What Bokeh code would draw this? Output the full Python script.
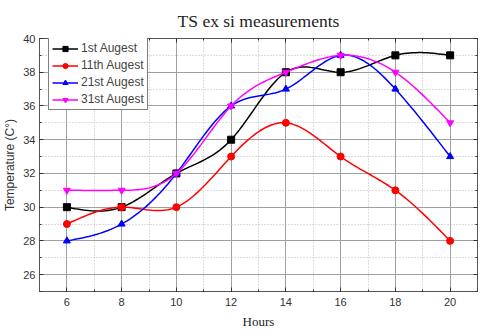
import numpy as np
from bokeh.plotting import figure
from bokeh.models import LinearAxis, Range1d, FixedTicker, Legend, LegendItem, Title, Grid
from bokeh.embed import file_html
from bokeh.resources import INLINE

hours = [6, 8, 10, 12, 14, 16, 18, 20]
aug1 = [30, 30, 32, 34, 38, 38, 39, 39]
aug11 = [29, 30, 30, 33, 35, 33, 31, 28]
aug21 = [28, 29, 32, 36, 37, 39, 37, 33]
aug31 = [31, 31, 32, 36, 38, 39, 38, 35]
labels = ["1st Augest", "11th Augest", "21st Augest", "31st Augest"]
colors = ["black", "red", "blue", "magenta"]
markers = ["square", "circle", "triangle", "inverted_triangle"]


def spline(x, y, n=20):
    x = np.asarray(x, float)
    y = np.asarray(y, float)
    m = len(x)
    h = np.diff(x)
    A = np.zeros((m, m))
    b = np.zeros(m)
    A[0, 0] = A[-1, -1] = 1
    for i in range(1, m - 1):
        A[i, i - 1] = h[i - 1]
        A[i, i] = 2 * (h[i - 1] + h[i])
        A[i, i + 1] = h[i]
        b[i] = 6 * ((y[i + 1] - y[i]) / h[i] - (y[i] - y[i - 1]) / h[i - 1])
    M = np.linalg.solve(A, b)
    xs, ys = [], []
    for i in range(m - 1):
        t = np.linspace(x[i], x[i + 1], n, endpoint=(i == m - 2))
        a = x[i + 1] - t
        c = t - x[i]
        s = (M[i] * a**3 + M[i + 1] * c**3) / (6 * h[i]) + \
            (y[i] / h[i] - M[i] * h[i] / 6) * a + \
            (y[i + 1] / h[i] - M[i + 1] * h[i] / 6) * c
        xs.extend(t)
        ys.extend(s)
    return xs, ys


p = figure(width=480, height=331, output_backend="svg", toolbar_location=None,
           x_range=Range1d(5, 21), y_range=Range1d(25, 40),
           min_border_left=39, min_border_right=3, min_border_top=37, min_border_bottom=39,
           x_axis_type=None, y_axis_type=None)
p.background_fill_color = "white"
p.outline_line_color = "#555555"

xt = FixedTicker(ticks=hours, minor_ticks=list(range(5, 22)))
yt = FixedTicker(ticks=list(range(26, 41, 2)), minor_ticks=list(range(25, 41)))

ax_b = LinearAxis(ticker=xt, axis_label="Hours")
ax_l = LinearAxis(ticker=yt, axis_label="Temperature (C°)")
ax_t = LinearAxis(ticker=xt)
ax_r = LinearAxis(ticker=yt)
for ax in (ax_b, ax_l, ax_t, ax_r):
    ax.axis_line_color = "#555555"
    ax.major_tick_in = 4
    ax.major_tick_out = 0
    ax.minor_tick_in = 2
    ax.minor_tick_out = 0
    ax.major_tick_line_color = "#333333"
    ax.minor_tick_line_color = "#333333"
    ax.major_label_text_font = "Liberation Sans"
    ax.major_label_text_font_size = "11px"
    ax.major_label_text_color = "#333333"
for ax in (ax_t, ax_r):
    ax.major_label_text_font_size = "0px"
    ax.major_label_text_color = None
    ax.major_label_standoff = 0
ax_b.axis_label_text_font = "Liberation Serif"
ax_b.axis_label_text_font_size = "13px"
ax_b.axis_label_text_font_style = "normal"
ax_b.axis_label_text_color = "#222222"
ax_b.major_label_standoff = 6
ax_b.axis_label_standoff = 5
ax_l.axis_label_text_font = "Liberation Sans"
ax_l.axis_label_text_font_size = "12px"
ax_l.axis_label_text_font_style = "normal"
ax_l.axis_label_text_color = "#333333"
ax_l.major_label_standoff = 4
ax_l.axis_label_standoff = 3
p.add_layout(ax_b, "below")
p.add_layout(ax_l, "left")
p.add_layout(ax_t, "above")
p.add_layout(ax_r, "right")

title = Title(text="TS ex si measurements", text_font="Liberation Serif",
              text_font_size="17.5px", text_font_style="normal", align="center",
              text_color="#222222", offset=0, standoff=16)
p.add_layout(title, "above")

for dim, tk in ((0, xt), (1, yt)):
    g = Grid(dimension=dim, ticker=tk, grid_line_color="#a0a0a0", grid_line_width=1,
             minor_grid_line_color="#bbbbbb", minor_grid_line_dash="1 2")
    p.add_layout(g)

items = []
for ys, lab, col, mk in zip([aug1, aug11, aug21, aug31], labels, colors, markers):
    sx, sy = spline(hours, ys)
    r1 = p.line(sx, sy, line_color=col, line_width=1.5)
    r2 = p.scatter(hours, ys, marker=mk, size=7, fill_color=col, line_color=col)
    items.append(LegendItem(label=lab, renderers=[r1, r2]))

leg = Legend(items=items, location=(9, 181), border_line_color="black",
             border_line_width=1, label_text_font="Liberation Sans",
             label_text_font_size="12px", label_height=13, glyph_height=13,
             glyph_width=26, spacing=3, padding=3, margin=0,
             label_standoff=3, background_fill_alpha=1)
p.add_layout(leg)

open("out.html", "w").write(file_html(p, INLINE))
